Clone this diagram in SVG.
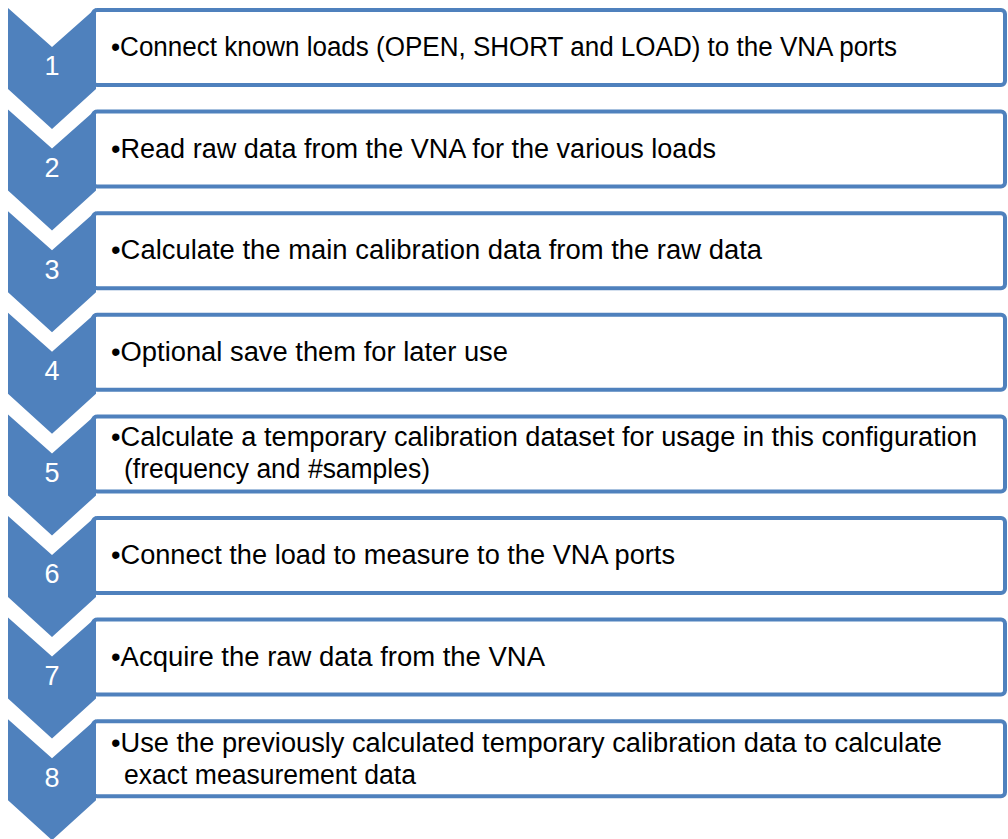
<svg xmlns="http://www.w3.org/2000/svg" width="1008" height="839" viewBox="0 0 1008 839">
<style>
.box{fill:#ffffff;stroke:#4f81bd;stroke-width:4}
.chev{fill:#4f81bd;stroke:none}
.num{font-family:"Liberation Sans",Arial,sans-serif;font-size:27px;fill:#ffffff;text-anchor:middle}
.txt{font-family:"Liberation Sans",Arial,sans-serif;font-size:27px;fill:#000000}
</style>
<rect width="1008" height="839" fill="#ffffff"/>
<g id="connectors"></g>
<g id="step1">
<rect class="box" x="93" y="10" width="912" height="75" rx="4"/>
<polygon class="chev" points="8,8 52,47 96,8 96,89 52,129 8,89"/>
<text class="num" x="52" y="75">1</text>
<text class="txt" x="111" y="56" textLength="786" lengthAdjust="spacingAndGlyphs">•Connect known loads (OPEN, SHORT and LOAD) to the VNA ports</text>
</g>
<g id="step2">
<rect class="box" x="93" y="111.6" width="912" height="75" rx="4"/>
<polygon class="chev" points="8,109.6 52,148.6 96,109.6 96,190.6 52,230.6 8,190.6"/>
<text class="num" x="52" y="177">2</text>
<text class="txt" x="111" y="158" textLength="605" lengthAdjust="spacingAndGlyphs">•Read raw data from the VNA for the various loads</text>
</g>
<g id="step3">
<rect class="box" x="93" y="213.2" width="912" height="75" rx="4"/>
<polygon class="chev" points="8,211.2 52,250.2 96,211.2 96,292.2 52,332.2 8,292.2"/>
<text class="num" x="52" y="279">3</text>
<text class="txt" x="111" y="259" textLength="651" lengthAdjust="spacingAndGlyphs">•Calculate the main calibration data from the raw data</text>
</g>
<g id="step4">
<rect class="box" x="93" y="314.8" width="912" height="75" rx="4"/>
<polygon class="chev" points="8,312.8 52,351.8 96,312.8 96,393.8 52,433.8 8,393.8"/>
<text class="num" x="52" y="380">4</text>
<text class="txt" x="111" y="361" textLength="397" lengthAdjust="spacingAndGlyphs">•Optional save them for later use</text>
</g>
<g id="step5">
<rect class="box" x="93" y="416.4" width="912" height="75" rx="4"/>
<polygon class="chev" points="8,414.4 52,453.4 96,414.4 96,495.4 52,535.4 8,495.4"/>
<text class="num" x="52" y="482">5</text>
<text class="txt" x="111" y="446" textLength="866" lengthAdjust="spacingAndGlyphs">•Calculate a temporary calibration dataset for usage in this configuration</text>
<text class="txt" x="124" y="478" textLength="306" lengthAdjust="spacingAndGlyphs">(frequency and #samples)</text>
</g>
<g id="step6">
<rect class="box" x="93" y="518" width="912" height="75" rx="4"/>
<polygon class="chev" points="8,516 52,555 96,516 96,597 52,637 8,597"/>
<text class="num" x="52" y="583">6</text>
<text class="txt" x="111" y="564" textLength="564" lengthAdjust="spacingAndGlyphs">•Connect the load to measure to the VNA ports</text>
</g>
<g id="step7">
<rect class="box" x="93" y="619.6" width="912" height="75" rx="4"/>
<polygon class="chev" points="8,617.6 52,656.6 96,617.6 96,698.6 52,738.6 8,698.6"/>
<text class="num" x="52" y="685">7</text>
<text class="txt" x="111" y="666" textLength="434" lengthAdjust="spacingAndGlyphs">•Acquire the raw data from the VNA</text>
</g>
<g id="step8">
<rect class="box" x="93" y="721.2" width="912" height="75" rx="4"/>
<polygon class="chev" points="8,719.2 52,758.2 96,719.2 96,800.2 52,840.2 8,800.2"/>
<text class="num" x="52" y="787">8</text>
<text class="txt" x="111" y="752" textLength="831" lengthAdjust="spacingAndGlyphs">•Use the previously calculated temporary calibration data to calculate</text>
<text class="txt" x="124" y="784" textLength="292" lengthAdjust="spacingAndGlyphs">exact measurement data</text>
</g>
</svg>
